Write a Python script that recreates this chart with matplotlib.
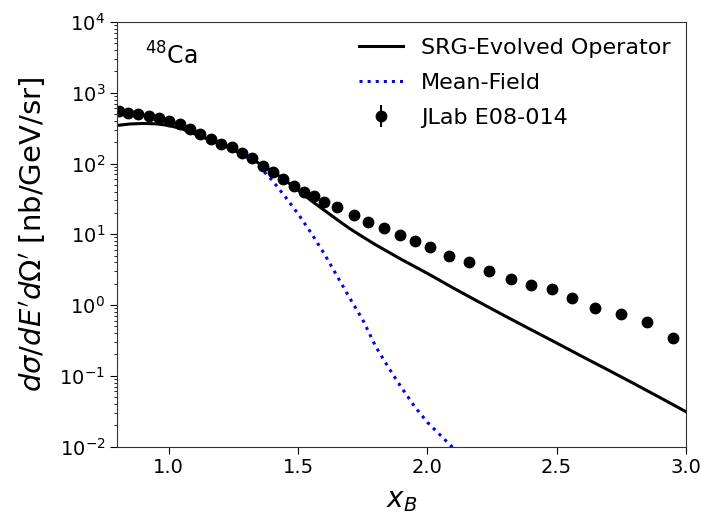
import numpy as np
import matplotlib
matplotlib.use("Agg")
import matplotlib.pyplot as plt

# JLab E08-014 data (48Ca)
data_x = [0.808, 0.843, 0.882, 0.924, 0.963, 1.00, 1.044, 1.083, 1.121, 1.164,
          1.202, 1.245, 1.283, 1.322, 1.364, 1.403, 1.442, 1.484, 1.523, 1.561,
          1.60, 1.65, 1.716, 1.77, 1.832, 1.894, 1.951, 2.01, 2.083, 2.16,
          2.24, 2.322, 2.40, 2.48, 2.56, 2.65, 2.75, 2.85, 2.95]
data_y = [560, 516, 500, 469, 440, 398, 361, 307, 261, 221,
          188, 170, 140, 119, 91.6, 75, 60, 48, 39, 34.5,
          29, 24, 19, 15, 12.4, 9.9, 7.9, 6.5, 5.0, 4.0,
          3.07, 2.35, 1.94, 1.70, 1.27, 0.91, 0.74, 0.57, 0.34]
data_err = [20, 18, 17, 15, 14, 12, 11, 9, 8, 7,
            6, 5, 4.5, 4, 3, 2.5, 2, 1.6, 1.3, 1.2,
            1.0, 0.8, 0.7, 0.6, 0.5, 0.4, 0.35, 0.3, 0.25, 0.2,
            0.16, 0.13, 0.11, 0.1, 0.08, 0.06, 0.05, 0.045, 0.035]

# SRG-evolved operator calculation
srg_x = [0.80, 0.85, 0.90, 0.95, 1.00, 1.05, 1.10, 1.15, 1.20, 1.25,
         1.30, 1.35, 1.40, 1.45, 1.50, 1.55, 1.60, 1.65, 1.70, 1.75,
         1.80, 1.90, 2.00, 2.10, 2.20, 2.30, 2.40, 2.50, 2.60, 2.70,
         2.80, 2.90, 3.00]
srg_y = [345, 362, 368, 364, 345, 310, 262, 222, 188, 155,
         127, 100, 78, 58, 42, 30, 22, 16.2, 12, 9.2,
         7.1, 4.4, 2.8, 1.74, 1.1, 0.70, 0.45, 0.29, 0.186, 0.12,
         0.077, 0.049, 0.031]

# Mean-field calculation
mf_x = [0.80, 0.85, 0.90, 0.95, 1.00, 1.05, 1.10, 1.15, 1.20, 1.25,
        1.30, 1.35, 1.40, 1.45, 1.50, 1.55, 1.60, 1.65, 1.70, 1.75,
        1.80, 1.85, 1.90, 1.95, 2.00, 2.05, 2.10]
mf_y = [560, 520, 490, 450, 400, 350, 290, 240, 195, 158,
        125, 90, 58, 34, 19.5, 10.5, 5.4, 2.6, 1.25, 0.62,
        0.26, 0.13, 0.068, 0.037, 0.022, 0.0145, 0.0095]

fig = plt.figure(figsize=(7.01, 5.15), dpi=100)
ax = fig.add_axes([117 / 701, 1 - 446.5 / 515, 569 / 701, 424.5 / 515])

ax.plot(srg_x, srg_y, color="black", lw=2.2, label="SRG-Evolved Operator")
ax.plot(mf_x, mf_y, color="blue", lw=2.2, ls=":", label="Mean-Field")
ax.errorbar(data_x, data_y, yerr=data_err, fmt="o", color="black",
            markersize=7.5, elinewidth=1.5, label="JLab E08-014")

ax.set_yscale("log")
ax.set_xlim(0.8, 3.0)
ax.set_ylim(1e-2, 1e4)
ax.set_xticks([1.0, 1.5, 2.0, 2.5, 3.0])
ax.tick_params(labelsize=14)
ax.tick_params(which="major", length=5)

ax.set_xlabel(r"$x_B$", fontsize=20, labelpad=6)
ax.set_ylabel(r"$d\sigma/dE'd\Omega'$ [nb/GeV/sr]", fontsize=21, labelpad=8)

ax.text(0.05, 0.92, r"$^{48}$Ca", transform=ax.transAxes, fontsize=17,
        ha="left", va="center")

handles, labels = ax.get_legend_handles_labels()
ax.legend(handles, labels, loc="upper right", frameon=False, fontsize=16,
          borderaxespad=0.3, labelspacing=0.68)

for s in ax.spines.values():
    s.set_color("#333333")

# clipped label from the panel above
fig.text(0.197, 0.994, r"$x_B$", fontsize=20, va="bottom", ha="left")

fig.savefig("out.png", dpi=100)
